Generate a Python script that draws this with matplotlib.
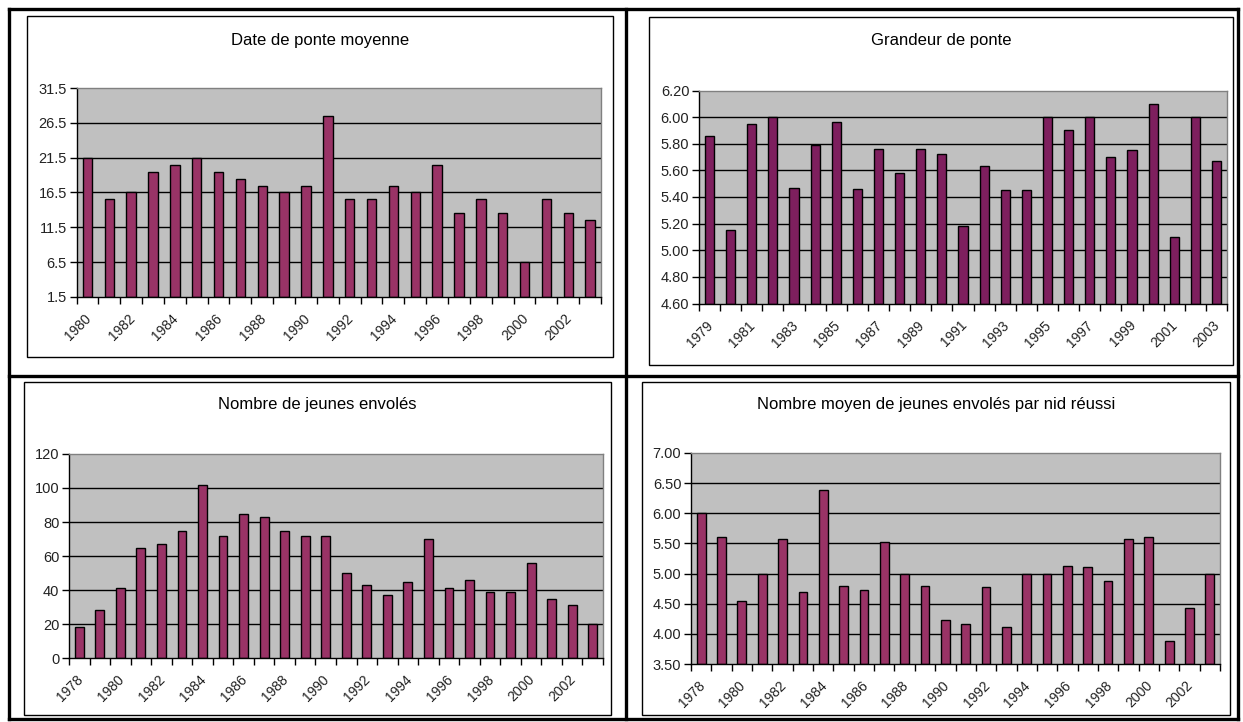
import matplotlib
matplotlib.use("Agg")
import matplotlib.pyplot as plt
from matplotlib.patches import Rectangle
from matplotlib.lines import Line2D

plt.rcParams['font.family'] = ['Liberation Sans Narrow', 'Liberation Sans', 'DejaVu Sans']

W, H = 1243, 722

# ---------------- data ----------------
years_ponte = list(range(1980, 2004))
date_ponte = [21.5, 15.5, 16.5, 19.5, 20.5, 21.5, 19.5, 18.5, 17.5, 16.5, 17.5, 27.5,
              15.5, 15.5, 17.5, 16.5, 20.5, 13.5, 15.5, 13.5, 6.5, 15.5, 13.5, 12.5]

years_grandeur = list(range(1979, 2004))
grandeur_ponte = [5.86, 5.15, 5.95, 6.00, 5.47, 5.79, 5.96, 5.46, 5.76, 5.58, 5.76, 5.72, 5.18,
                  5.63, 5.45, 5.45, 6.00, 5.90, 6.00, 5.70, 5.75, 6.10, 5.10, 6.00, 5.67]

years_jeunes = list(range(1978, 2004))
jeunes_envoles = [18, 28, 41, 65, 67, 75, 102, 72, 85, 83, 75, 72, 72, 50, 43, 37, 45, 70,
                  41, 46, 39, 39, 56, 35, 31, 20]

years_moyen = list(range(1978, 2004))
moyen_par_nid = [6.00, 5.60, 4.55, 5.00, 5.58, 4.69, 6.38, 4.80, 4.72, 5.53, 5.00, 4.80, 4.23,
                 4.16, 4.78, 4.11, 5.00, 5.00, 5.13, 5.11, 4.88, 5.57, 5.60, 3.88, 4.43, 5.00]

titles = ["Date de ponte moyenne", "Grandeur de ponte",
          "Nombre de jeunes envolés", "Nombre moyen de jeunes envolés par nid réussi"]
yticks_tl = [1.5, 6.5, 11.5, 16.5, 21.5, 26.5, 31.5]
yticks_tr = [4.60, 4.80, 5.00, 5.20, 5.40, 5.60, 5.80, 6.00, 6.20]
yticks_bl = [0, 20, 40, 60, 80, 100, 120]
yticks_br = [3.50, 4.00, 4.50, 5.00, 5.50, 6.00, 6.50, 7.00]

fig = plt.figure(figsize=(W / 100, H / 100), dpi=100)
fig.patch.set_facecolor('white')


def rect(x0, y0, x1, y1):
    return [x0 / W, 1 - y1 / H, (x1 - x0) / W, (y1 - y0) / H]


def fx(x):
    return x / W


def fy(y):
    return 1 - y / H


# chart boxes (thin) and outer table (thick)
boxes = [(26.7, 15.7, 612.7, 356.7), (649, 17.3, 1233, 365),
         (24, 381.7, 610.7, 715), (641.7, 381.7, 1230, 715)]
for (x0, y0, x1, y1) in boxes:
    fig.patches.append(Rectangle((fx(x0), fy(y1)), fx(x1) - fx(x0), fy(y0) - fy(y1),
                                 transform=fig.transFigure, fill=False,
                                 edgecolor='black', linewidth=1.0, zorder=0))

tw = 2.4
XR, YB = 1238, 719
fig.lines.append(Line2D([fx(9), fx(9)], [fy(9), fy(YB)], transform=fig.transFigure, color='black', lw=tw))
fig.lines.append(Line2D([fx(XR), fx(XR)], [fy(9), fy(YB)], transform=fig.transFigure, color='black', lw=tw))
fig.lines.append(Line2D([fx(9), fx(XR)], [fy(9), fy(9)], transform=fig.transFigure, color='black', lw=tw))
fig.lines.append(Line2D([fx(9), fx(XR)], [fy(YB), fy(YB)], transform=fig.transFigure, color='black', lw=tw))
fig.lines.append(Line2D([fx(626), fx(626)], [fy(9), fy(YB)], transform=fig.transFigure, color='black', lw=tw))
fig.lines.append(Line2D([fx(9), fx(XR)], [fy(375.7), fy(375.7)], transform=fig.transFigure, color='black', lw=tw))


def panel(plot_px, box, title, years, values, yticks, fmt, color, title_y):
    ax = fig.add_axes(rect(*plot_px))
    ax.set_facecolor('#C0C0C0')
    n = len(values)
    ymin, ymax = yticks[0], yticks[-1]
    for t in yticks[1:-1]:
        ax.axhline(t, color='black', lw=1.0, zorder=1)
    xs = list(range(n))
    ax.bar(xs, [v - ymin for v in values], bottom=ymin, width=0.43, color=color,
           edgecolor='black', linewidth=1.0, zorder=2)
    ax.set_xlim(-0.5, n - 0.5)
    ax.set_ylim(ymin, ymax)
    ax.set_yticks(yticks)
    ax.set_yticklabels([fmt(t) for t in yticks], fontsize=10.5, color='#222222')
    ax.set_xticks([i - 0.5 for i in range(n + 1)])
    ax.set_xticklabels([])
    ax.tick_params(axis='both', direction='out', length=5, width=1.0, color='black', pad=2)
    for s in ['top', 'right']:
        ax.spines[s].set_color('#808080')
        ax.spines[s].set_linewidth(1.0)
    for s in ['left', 'bottom']:
        ax.spines[s].set_color('black')
        ax.spines[s].set_linewidth(1.0)
    for i in range(0, n, 2):
        ax.annotate(str(years[i]), xy=(i, 0), xycoords=('data', 'axes fraction'),
                    xytext=(-2.5, -10.5), textcoords='offset points',
                    ha='right', va='top', rotation=45, rotation_mode='anchor',
                    fontsize=10, color='#222222')
    bx0, by0, bx1, by1 = box
    fig.text(fx((bx0 + bx1) / 2), fy(title_y), title, ha='center', va='center',
             fontsize=12, color='black')
    return ax


panel((76.5, 88, 601, 297), boxes[0], titles[0], years_ponte, date_ponte, yticks_tl,
      lambda t: f"{t:.1f}", '#993366', 40)
panel((699, 90.5, 1227, 303.5), boxes[1], titles[1], years_grandeur, grandeur_ponte, yticks_tr,
      lambda t: f"{t:.2f}", '#7E1F5E', 40)
panel((69, 454, 603, 658), boxes[2], titles[2], years_jeunes, jeunes_envoles, yticks_bl,
      lambda t: f"{t:.0f}", '#993366', 404)
panel((691, 453, 1220, 664), boxes[3], titles[3], years_moyen, moyen_par_nid, yticks_br,
      lambda t: f"{t:.2f}", '#993366', 404)

fig.savefig('out.png', dpi=100)
